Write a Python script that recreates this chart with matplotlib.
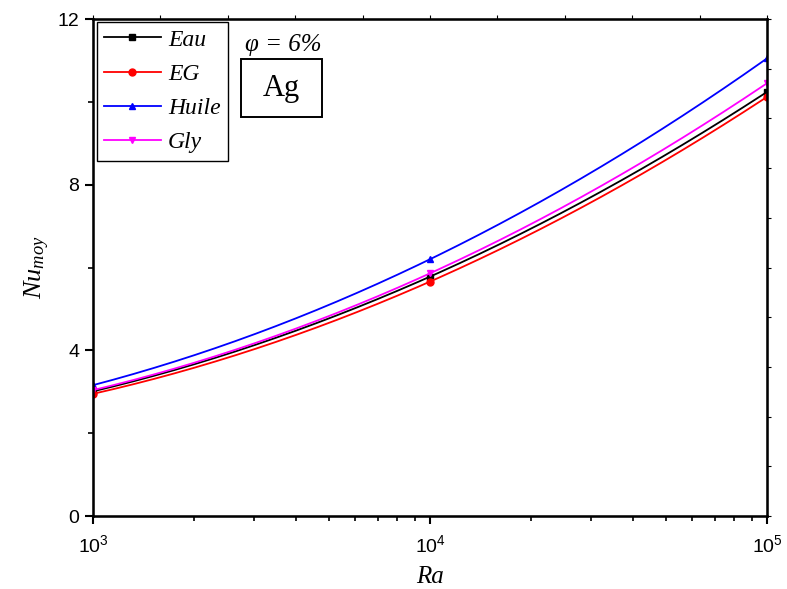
import numpy as np
import matplotlib
matplotlib.use("Agg")
import matplotlib.pyplot as plt
from matplotlib.patches import Rectangle
from matplotlib.ticker import LogLocator, NullFormatter, MultipleLocator

plt.rcParams["mathtext.fontset"] = "custom"
plt.rcParams["mathtext.it"] = "Liberation Serif:italic"
plt.rcParams["mathtext.rm"] = "Liberation Sans"

ra = [1e3, 1e4, 1e5]
nu_eau = [3.01, 5.78, 10.24]
nu_eg = [2.95, 5.66, 10.12]
nu_huile = [3.16, 6.20, 11.05]
nu_gly = [3.04, 5.86, 10.45]

series = [
    ("Eau", nu_eau, "black", "s"),
    ("EG", nu_eg, "red", "o"),
    ("Huile", nu_huile, "blue", "^"),
    ("Gly", nu_gly, "magenta", "v"),
]


def smooth(x, y):
    """Quadratic through the points in log10(x), like Origin's spline line."""
    lx = np.log10(x)
    c = np.polyfit(lx, y, 2)
    xs = np.linspace(lx[0], lx[-1], 200)
    return 10 ** xs, np.polyval(c, xs)


fig = plt.figure(figsize=(7.87, 5.89), dpi=100)
ax = fig.add_axes([0.1182, 0.1239, 0.8564, 0.8438])

serif_it = {"family": "Liberation Serif", "style": "italic"}

for name, y, col, mk in series:
    xs, ys = smooth(ra, y)
    ax.plot(xs, ys, color=col, lw=1.3)
    ax.plot(ra, y, color=col, lw=1.3, marker=mk, ms=5, ls="none")
    ax.plot([], [], color=col, lw=1.3, marker=mk, ms=5, label=name)

ax.set_xscale("log")
ax.set_xlim(1e3, 1e5)
ax.set_ylim(0, 12)
ax.set_yticks([0, 4, 8, 12])
ax.yaxis.set_minor_locator(MultipleLocator(2))
ax.xaxis.set_minor_locator(LogLocator(base=10, subs=np.arange(2, 10)))
ax.xaxis.set_minor_formatter(NullFormatter())

for s in ax.spines.values():
    s.set_linewidth(1.8)
ax.tick_params(which="major", direction="out", length=6, width=1.5,
               labelsize=14)
ax.tick_params(axis="x", which="major", pad=7)
ax.tick_params(axis="y", which="major", pad=4)
ax.tick_params(which="minor", direction="out", length=3.5, width=1.2)
for lbl in ax.get_xticklabels() + ax.get_yticklabels():
    lbl.set_family("Liberation Sans")

# top / right axes with plain equal ticks and no labels
axt = ax.twiny()
axt.set_xlim(0, 10)
axt.set_xticks(range(11))
axt.tick_params(axis="x", direction="out", length=3, width=0.8, labeltop=False)
axr = ax.twinx()
axr.set_ylim(0, 10)
axr.set_yticks(range(11))
axr.tick_params(axis="y", direction="out", length=3, width=0.8, labelright=False)

ax.set_xlabel("Ra", fontdict={**serif_it, "size": 18}, labelpad=7)
ax.set_ylabel(r"$Nu_{moy}$", fontsize=19, labelpad=4)

leg = ax.legend(loc="upper left", bbox_to_anchor=(0.006, 0.994),
                prop={**serif_it, "size": 17}, handlelength=2.4,
                handletextpad=0.3, labelspacing=0.54, borderpad=0.3,
                borderaxespad=0, fancybox=False, framealpha=1,
                edgecolor="black")
leg.get_frame().set_linewidth(1.0)

ax.text(0.2255, 0.948, "φ = 6%", transform=ax.transAxes, ha="left",
        va="center", fontdict={**serif_it, "size": 18})
ax.add_patch(Rectangle((0.2196, 0.8028), 0.1202, 0.1167,
                       transform=ax.transAxes, fc="white", ec="black",
                       lw=1.4, zorder=5))
ax.text(0.2797, 0.861, "Ag", transform=ax.transAxes, ha="center",
        va="center", family="Liberation Serif", fontsize=22, zorder=6)

fig.savefig("out.png", dpi=100)
